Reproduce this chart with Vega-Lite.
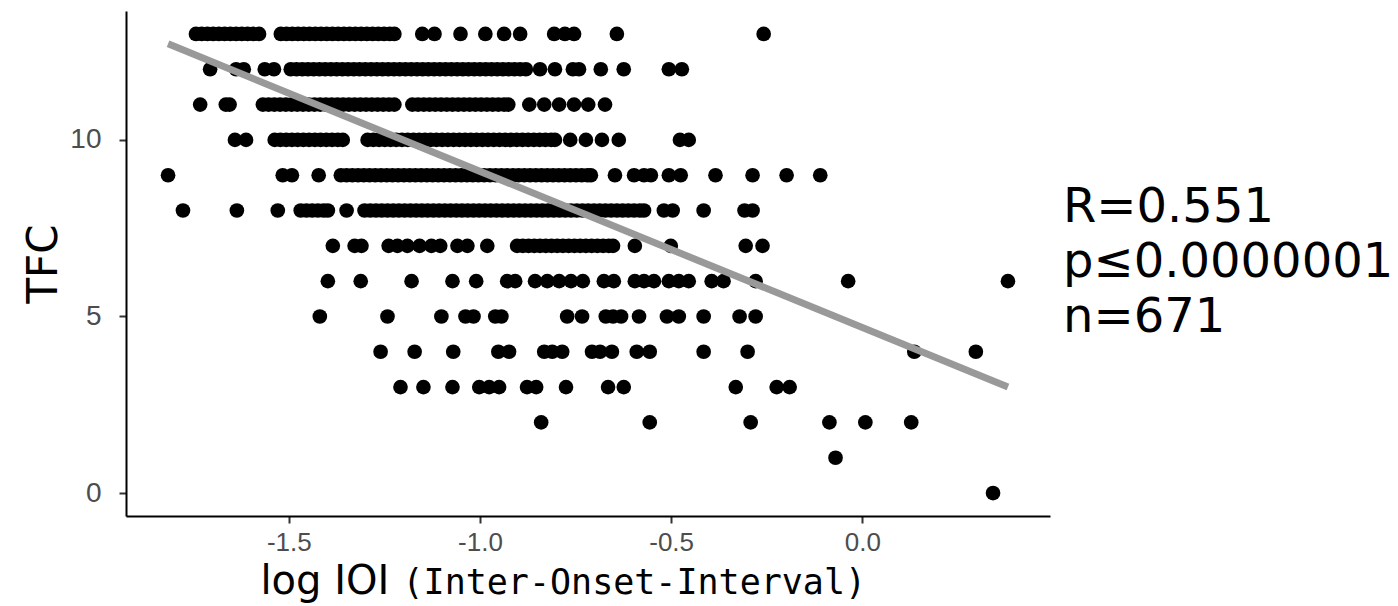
{
"$schema":"https://vega.github.io/schema/vega-lite/v6.json",
"autosize":"none","width":924,"height":505,
"padding":{"left":126,"top":11,"right":348,"bottom":90},
"background":"white",
"config":{"view":{"stroke":null}},
"title":{"text":["R=0.551","p≤0.0000001","n=671"],"orient":"top","anchor":"start","frame":"group","dx":937,"dy":331,"font":"DejaVu Sans","fontSize":48,"fontWeight":"normal","lineHeight":55,"baseline":"top","color":"black","offset":0},
"datasets":{
"pts":[
{"ioi":-1.743,"tfc":13},{"ioi":-1.728,"tfc":13},{"ioi":-1.713,"tfc":13},{"ioi":-1.698,"tfc":13},{"ioi":-1.683,"tfc":13},{"ioi":-1.668,"tfc":13},{"ioi":-1.653,"tfc":13},{"ioi":-1.638,"tfc":13},{"ioi":-1.623,"tfc":13},{"ioi":-1.608,"tfc":13},{"ioi":-1.593,"tfc":13},{"ioi":-1.578,"tfc":13},
{"ioi":-1.521,"tfc":13},{"ioi":-1.506,"tfc":13},{"ioi":-1.491,"tfc":13},{"ioi":-1.476,"tfc":13},{"ioi":-1.461,"tfc":13},{"ioi":-1.446,"tfc":13},{"ioi":-1.431,"tfc":13},{"ioi":-1.416,"tfc":13},{"ioi":-1.401,"tfc":13},{"ioi":-1.386,"tfc":13},{"ioi":-1.371,"tfc":13},{"ioi":-1.356,"tfc":13},{"ioi":-1.341,"tfc":13},{"ioi":-1.326,"tfc":13},{"ioi":-1.311,"tfc":13},{"ioi":-1.296,"tfc":13},{"ioi":-1.281,"tfc":13},{"ioi":-1.266,"tfc":13},{"ioi":-1.251,"tfc":13},{"ioi":-1.236,"tfc":13},{"ioi":-1.224,"tfc":13},
{"ioi":-1.151,"tfc":13},{"ioi":-1.119,"tfc":13},{"ioi":-1.051,"tfc":13},{"ioi":-0.986,"tfc":13},{"ioi":-0.937,"tfc":13},{"ioi":-0.895,"tfc":13},{"ioi":-0.806,"tfc":13},{"ioi":-0.778,"tfc":13},{"ioi":-0.754,"tfc":13},{"ioi":-0.642,"tfc":13},{"ioi":-0.258,"tfc":13},
{"ioi":-1.706,"tfc":12},{"ioi":-1.638,"tfc":12},{"ioi":-1.618,"tfc":12},{"ioi":-1.563,"tfc":12},{"ioi":-1.539,"tfc":12},
{"ioi":-1.495,"tfc":12},{"ioi":-1.480,"tfc":12},{"ioi":-1.465,"tfc":12},{"ioi":-1.450,"tfc":12},{"ioi":-1.435,"tfc":12},{"ioi":-1.420,"tfc":12},{"ioi":-1.405,"tfc":12},{"ioi":-1.390,"tfc":12},{"ioi":-1.375,"tfc":12},{"ioi":-1.360,"tfc":12},{"ioi":-1.345,"tfc":12},{"ioi":-1.330,"tfc":12},{"ioi":-1.315,"tfc":12},{"ioi":-1.300,"tfc":12},{"ioi":-1.285,"tfc":12},{"ioi":-1.270,"tfc":12},{"ioi":-1.255,"tfc":12},{"ioi":-1.240,"tfc":12},{"ioi":-1.225,"tfc":12},{"ioi":-1.210,"tfc":12},{"ioi":-1.195,"tfc":12},{"ioi":-1.180,"tfc":12},{"ioi":-1.165,"tfc":12},{"ioi":-1.150,"tfc":12},{"ioi":-1.135,"tfc":12},{"ioi":-1.120,"tfc":12},{"ioi":-1.105,"tfc":12},{"ioi":-1.090,"tfc":12},{"ioi":-1.075,"tfc":12},{"ioi":-1.060,"tfc":12},{"ioi":-1.045,"tfc":12},{"ioi":-1.030,"tfc":12},{"ioi":-1.015,"tfc":12},{"ioi":-1.000,"tfc":12},{"ioi":-0.985,"tfc":12},{"ioi":-0.970,"tfc":12},{"ioi":-0.955,"tfc":12},{"ioi":-0.940,"tfc":12},{"ioi":-0.925,"tfc":12},{"ioi":-0.910,"tfc":12},{"ioi":-0.895,"tfc":12},{"ioi":-0.880,"tfc":12},
{"ioi":-0.843,"tfc":12},{"ioi":-0.804,"tfc":12},{"ioi":-0.757,"tfc":12},{"ioi":-0.741,"tfc":12},{"ioi":-0.684,"tfc":12},{"ioi":-0.624,"tfc":12},{"ioi":-0.506,"tfc":12},{"ioi":-0.472,"tfc":12},
{"ioi":-1.732,"tfc":11},{"ioi":-1.665,"tfc":11},{"ioi":-1.655,"tfc":11},
{"ioi":-1.568,"tfc":11},{"ioi":-1.553,"tfc":11},{"ioi":-1.538,"tfc":11},{"ioi":-1.523,"tfc":11},{"ioi":-1.508,"tfc":11},{"ioi":-1.493,"tfc":11},{"ioi":-1.478,"tfc":11},{"ioi":-1.463,"tfc":11},{"ioi":-1.448,"tfc":11},{"ioi":-1.433,"tfc":11},{"ioi":-1.418,"tfc":11},{"ioi":-1.403,"tfc":11},{"ioi":-1.388,"tfc":11},{"ioi":-1.373,"tfc":11},{"ioi":-1.358,"tfc":11},{"ioi":-1.343,"tfc":11},{"ioi":-1.328,"tfc":11},{"ioi":-1.313,"tfc":11},{"ioi":-1.298,"tfc":11},{"ioi":-1.283,"tfc":11},{"ioi":-1.268,"tfc":11},{"ioi":-1.253,"tfc":11},{"ioi":-1.238,"tfc":11},{"ioi":-1.224,"tfc":11},
{"ioi":-1.177,"tfc":11},{"ioi":-1.162,"tfc":11},{"ioi":-1.147,"tfc":11},{"ioi":-1.132,"tfc":11},{"ioi":-1.117,"tfc":11},{"ioi":-1.102,"tfc":11},{"ioi":-1.087,"tfc":11},{"ioi":-1.072,"tfc":11},{"ioi":-1.057,"tfc":11},{"ioi":-1.042,"tfc":11},{"ioi":-1.027,"tfc":11},{"ioi":-1.012,"tfc":11},{"ioi":-0.997,"tfc":11},{"ioi":-0.982,"tfc":11},{"ioi":-0.967,"tfc":11},{"ioi":-0.952,"tfc":11},{"ioi":-0.937,"tfc":11},{"ioi":-0.926,"tfc":11},
{"ioi":-0.871,"tfc":11},{"ioi":-0.832,"tfc":11},{"ioi":-0.793,"tfc":11},{"ioi":-0.754,"tfc":11},{"ioi":-0.717,"tfc":11},{"ioi":-0.673,"tfc":11},
{"ioi":-1.641,"tfc":10},{"ioi":-1.612,"tfc":10},
{"ioi":-1.537,"tfc":10},{"ioi":-1.522,"tfc":10},{"ioi":-1.507,"tfc":10},{"ioi":-1.492,"tfc":10},{"ioi":-1.477,"tfc":10},{"ioi":-1.462,"tfc":10},{"ioi":-1.447,"tfc":10},{"ioi":-1.432,"tfc":10},{"ioi":-1.417,"tfc":10},{"ioi":-1.402,"tfc":10},{"ioi":-1.387,"tfc":10},{"ioi":-1.372,"tfc":10},{"ioi":-1.359,"tfc":10},
{"ioi":-1.294,"tfc":10},{"ioi":-1.279,"tfc":10},{"ioi":-1.264,"tfc":10},{"ioi":-1.249,"tfc":10},{"ioi":-1.234,"tfc":10},{"ioi":-1.219,"tfc":10},{"ioi":-1.204,"tfc":10},{"ioi":-1.189,"tfc":10},{"ioi":-1.174,"tfc":10},{"ioi":-1.159,"tfc":10},{"ioi":-1.144,"tfc":10},{"ioi":-1.129,"tfc":10},{"ioi":-1.114,"tfc":10},{"ioi":-1.099,"tfc":10},{"ioi":-1.084,"tfc":10},{"ioi":-1.069,"tfc":10},{"ioi":-1.054,"tfc":10},{"ioi":-1.039,"tfc":10},{"ioi":-1.024,"tfc":10},{"ioi":-1.009,"tfc":10},{"ioi":-0.994,"tfc":10},{"ioi":-0.979,"tfc":10},{"ioi":-0.964,"tfc":10},{"ioi":-0.949,"tfc":10},{"ioi":-0.934,"tfc":10},{"ioi":-0.919,"tfc":10},{"ioi":-0.904,"tfc":10},{"ioi":-0.889,"tfc":10},{"ioi":-0.874,"tfc":10},{"ioi":-0.859,"tfc":10},{"ioi":-0.844,"tfc":10},{"ioi":-0.829,"tfc":10},{"ioi":-0.814,"tfc":10},{"ioi":-0.804,"tfc":10},
{"ioi":-0.764,"tfc":10},{"ioi":-0.723,"tfc":10},{"ioi":-0.681,"tfc":10},{"ioi":-0.637,"tfc":10},{"ioi":-0.477,"tfc":10},{"ioi":-0.454,"tfc":10},
{"ioi":-1.816,"tfc":9},{"ioi":-1.516,"tfc":9},{"ioi":-1.492,"tfc":9},{"ioi":-1.422,"tfc":9},
{"ioi":-1.364,"tfc":9},{"ioi":-1.349,"tfc":9},{"ioi":-1.334,"tfc":9},{"ioi":-1.319,"tfc":9},{"ioi":-1.304,"tfc":9},{"ioi":-1.289,"tfc":9},{"ioi":-1.274,"tfc":9},{"ioi":-1.259,"tfc":9},{"ioi":-1.244,"tfc":9},{"ioi":-1.229,"tfc":9},{"ioi":-1.214,"tfc":9},{"ioi":-1.199,"tfc":9},{"ioi":-1.184,"tfc":9},{"ioi":-1.169,"tfc":9},{"ioi":-1.154,"tfc":9},{"ioi":-1.139,"tfc":9},{"ioi":-1.124,"tfc":9},{"ioi":-1.109,"tfc":9},{"ioi":-1.094,"tfc":9},{"ioi":-1.079,"tfc":9},{"ioi":-1.064,"tfc":9},{"ioi":-1.049,"tfc":9},{"ioi":-1.034,"tfc":9},{"ioi":-1.019,"tfc":9},{"ioi":-1.004,"tfc":9},{"ioi":-0.989,"tfc":9},{"ioi":-0.974,"tfc":9},{"ioi":-0.959,"tfc":9},{"ioi":-0.944,"tfc":9},{"ioi":-0.929,"tfc":9},{"ioi":-0.914,"tfc":9},{"ioi":-0.899,"tfc":9},{"ioi":-0.884,"tfc":9},{"ioi":-0.869,"tfc":9},{"ioi":-0.854,"tfc":9},{"ioi":-0.839,"tfc":9},{"ioi":-0.824,"tfc":9},{"ioi":-0.809,"tfc":9},{"ioi":-0.794,"tfc":9},{"ioi":-0.779,"tfc":9},{"ioi":-0.764,"tfc":9},{"ioi":-0.749,"tfc":9},{"ioi":-0.734,"tfc":9},{"ioi":-0.719,"tfc":9},{"ioi":-0.710,"tfc":9},
{"ioi":-0.647,"tfc":9},{"ioi":-0.597,"tfc":9},{"ioi":-0.571,"tfc":9},{"ioi":-0.553,"tfc":9},{"ioi":-0.506,"tfc":9},{"ioi":-0.475,"tfc":9},{"ioi":-0.384,"tfc":9},{"ioi":-0.287,"tfc":9},{"ioi":-0.198,"tfc":9},{"ioi":-0.110,"tfc":9},
{"ioi":-1.777,"tfc":8},{"ioi":-1.636,"tfc":8},{"ioi":-1.529,"tfc":8},
{"ioi":-1.469,"tfc":8},{"ioi":-1.454,"tfc":8},{"ioi":-1.439,"tfc":8},{"ioi":-1.424,"tfc":8},{"ioi":-1.409,"tfc":8},{"ioi":-1.398,"tfc":8},{"ioi":-1.349,"tfc":8},
{"ioi":-1.302,"tfc":8},{"ioi":-1.287,"tfc":8},{"ioi":-1.272,"tfc":8},{"ioi":-1.257,"tfc":8},{"ioi":-1.242,"tfc":8},{"ioi":-1.227,"tfc":8},{"ioi":-1.212,"tfc":8},{"ioi":-1.197,"tfc":8},{"ioi":-1.182,"tfc":8},{"ioi":-1.167,"tfc":8},{"ioi":-1.152,"tfc":8},{"ioi":-1.137,"tfc":8},{"ioi":-1.122,"tfc":8},{"ioi":-1.107,"tfc":8},{"ioi":-1.092,"tfc":8},{"ioi":-1.077,"tfc":8},{"ioi":-1.062,"tfc":8},{"ioi":-1.047,"tfc":8},{"ioi":-1.032,"tfc":8},{"ioi":-1.017,"tfc":8},{"ioi":-1.002,"tfc":8},{"ioi":-0.987,"tfc":8},{"ioi":-0.972,"tfc":8},{"ioi":-0.957,"tfc":8},{"ioi":-0.942,"tfc":8},{"ioi":-0.927,"tfc":8},{"ioi":-0.912,"tfc":8},{"ioi":-0.897,"tfc":8},{"ioi":-0.882,"tfc":8},{"ioi":-0.867,"tfc":8},{"ioi":-0.852,"tfc":8},{"ioi":-0.837,"tfc":8},{"ioi":-0.822,"tfc":8},{"ioi":-0.807,"tfc":8},{"ioi":-0.792,"tfc":8},{"ioi":-0.777,"tfc":8},{"ioi":-0.762,"tfc":8},{"ioi":-0.747,"tfc":8},{"ioi":-0.732,"tfc":8},{"ioi":-0.717,"tfc":8},{"ioi":-0.702,"tfc":8},{"ioi":-0.687,"tfc":8},{"ioi":-0.672,"tfc":8},{"ioi":-0.657,"tfc":8},{"ioi":-0.642,"tfc":8},{"ioi":-0.627,"tfc":8},{"ioi":-0.612,"tfc":8},{"ioi":-0.597,"tfc":8},{"ioi":-0.582,"tfc":8},{"ioi":-0.571,"tfc":8},
{"ioi":-0.519,"tfc":8},{"ioi":-0.496,"tfc":8},{"ioi":-0.415,"tfc":8},{"ioi":-0.308,"tfc":8},{"ioi":-0.287,"tfc":8},
{"ioi":-1.385,"tfc":7},{"ioi":-1.328,"tfc":7},{"ioi":-1.310,"tfc":7},{"ioi":-1.239,"tfc":7},{"ioi":-1.216,"tfc":7},{"ioi":-1.190,"tfc":7},{"ioi":-1.158,"tfc":7},{"ioi":-1.127,"tfc":7},{"ioi":-1.104,"tfc":7},{"ioi":-1.059,"tfc":7},{"ioi":-1.033,"tfc":7},{"ioi":-0.981,"tfc":7},
{"ioi":-0.903,"tfc":7},{"ioi":-0.888,"tfc":7},{"ioi":-0.873,"tfc":7},{"ioi":-0.858,"tfc":7},{"ioi":-0.843,"tfc":7},{"ioi":-0.828,"tfc":7},{"ioi":-0.813,"tfc":7},{"ioi":-0.798,"tfc":7},{"ioi":-0.783,"tfc":7},{"ioi":-0.768,"tfc":7},{"ioi":-0.753,"tfc":7},{"ioi":-0.738,"tfc":7},{"ioi":-0.723,"tfc":7},{"ioi":-0.708,"tfc":7},{"ioi":-0.693,"tfc":7},{"ioi":-0.678,"tfc":7},{"ioi":-0.663,"tfc":7},{"ioi":-0.652,"tfc":7},
{"ioi":-0.595,"tfc":7},{"ioi":-0.501,"tfc":7},{"ioi":-0.305,"tfc":7},{"ioi":-0.261,"tfc":7},
{"ioi":-1.398,"tfc":6},{"ioi":-1.312,"tfc":6},{"ioi":-1.179,"tfc":6},{"ioi":-1.072,"tfc":6},{"ioi":-1.010,"tfc":6},{"ioi":-0.929,"tfc":6},{"ioi":-0.908,"tfc":6},{"ioi":-0.856,"tfc":6},{"ioi":-0.824,"tfc":6},{"ioi":-0.793,"tfc":6},{"ioi":-0.762,"tfc":6},{"ioi":-0.731,"tfc":6},{"ioi":-0.676,"tfc":6},{"ioi":-0.650,"tfc":6},{"ioi":-0.595,"tfc":6},{"ioi":-0.571,"tfc":6},{"ioi":-0.545,"tfc":6},{"ioi":-0.506,"tfc":6},{"ioi":-0.480,"tfc":6},{"ioi":-0.454,"tfc":6},{"ioi":-0.394,"tfc":6},{"ioi":-0.363,"tfc":6},{"ioi":-0.279,"tfc":6},{"ioi":-0.037,"tfc":6},{"ioi":0.381,"tfc":6},
{"ioi":-1.419,"tfc":5},{"ioi":-1.242,"tfc":5},{"ioi":-1.101,"tfc":5},{"ioi":-1.038,"tfc":5},{"ioi":-1.017,"tfc":5},{"ioi":-0.960,"tfc":5},{"ioi":-0.944,"tfc":5},{"ioi":-0.772,"tfc":5},{"ioi":-0.733,"tfc":5},{"ioi":-0.671,"tfc":5},{"ioi":-0.652,"tfc":5},{"ioi":-0.631,"tfc":5},{"ioi":-0.584,"tfc":5},{"ioi":-0.511,"tfc":5},{"ioi":-0.480,"tfc":5},{"ioi":-0.415,"tfc":5},{"ioi":-0.321,"tfc":5},{"ioi":-0.279,"tfc":5},
{"ioi":-1.260,"tfc":4},{"ioi":-1.171,"tfc":4},{"ioi":-1.070,"tfc":4},{"ioi":-0.952,"tfc":4},{"ioi":-0.924,"tfc":4},{"ioi":-0.832,"tfc":4},{"ioi":-0.811,"tfc":4},{"ioi":-0.785,"tfc":4},{"ioi":-0.707,"tfc":4},{"ioi":-0.686,"tfc":4},{"ioi":-0.655,"tfc":4},{"ioi":-0.590,"tfc":4},{"ioi":-0.556,"tfc":4},{"ioi":-0.415,"tfc":4},{"ioi":-0.300,"tfc":4},{"ioi":0.136,"tfc":4},{"ioi":0.297,"tfc":4},
{"ioi":-1.208,"tfc":3},{"ioi":-1.148,"tfc":3},{"ioi":-1.072,"tfc":3},{"ioi":-1.002,"tfc":3},{"ioi":-0.976,"tfc":3},{"ioi":-0.950,"tfc":3},{"ioi":-0.877,"tfc":3},{"ioi":-0.853,"tfc":3},{"ioi":-0.775,"tfc":3},{"ioi":-0.665,"tfc":3},{"ioi":-0.624,"tfc":3},{"ioi":-0.331,"tfc":3},{"ioi":-0.224,"tfc":3},{"ioi":-0.190,"tfc":3},
{"ioi":-0.840,"tfc":2},{"ioi":-0.556,"tfc":2},{"ioi":-0.292,"tfc":2},{"ioi":-0.086,"tfc":2},{"ioi":0.008,"tfc":2},{"ioi":0.128,"tfc":2},
{"ioi":-0.070,"tfc":1},
{"ioi":0.342,"tfc":0}
],
"fit":[{"ioi":-1.816,"tfc":12.72},{"ioi":0.381,"tfc":3.0}]
},
"layer":[
{"data":{"name":"pts"},"mark":{"type":"circle","size":215,"color":"black","opacity":1},
"encoding":{
"x":{"field":"ioi","type":"quantitative","scale":{"domain":[-1.926,0.491],"nice":false,"zero":false},
"axis":{"values":[-1.5,-1,-0.5,0],"format":".1f","labelExpr":"replace(datum.label, '\u2212', '-')","grid":false,"domainColor":"black","domainWidth":2,"tickColor":"#333","tickWidth":2,"tickSize":7,"labelFont":"Liberation Sans","labelFontSize":26,"labelColor":"#4d4d4d","labelPadding":6,"title":"log IOI","titleFont":"DejaVu Sans","titleFontSize":40,"titleFontWeight":"normal","titleColor":"black","titleAnchor":"start","titleAlign":"left","titleBaseline":"alphabetic","titleX":134,"titleY":77}},
"y":{"field":"tfc","type":"quantitative","scale":{"domain":[-0.65,13.65],"nice":false,"zero":false},
"axis":{"values":[0,5,10],"grid":false,"domainColor":"black","domainWidth":2,"tickColor":"#333","tickWidth":2,"tickSize":7,"labelFont":"Liberation Sans","labelFontSize":28,"labelColor":"#4d4d4d","labelPadding":18,"title":"TFC","titleFont":"DejaVu Sans","titleFontSize":42,"titleFontWeight":"normal","titleColor":"black","titleBaseline":"middle","titleX":-83}}
}},
{"data":{"name":"fit"},"mark":{"type":"line","color":"#999999","strokeWidth":7,"strokeCap":"butt"},
"encoding":{
"x":{"field":"ioi","type":"quantitative","axis":{"orient":"bottom","domain":false,"ticks":false,"labels":false,"grid":false,"title":"(Inter-Onset-Interval)","titleFont":"DejaVu Sans Mono","titleFontSize":35,"titleFontWeight":"normal","titleColor":"black","titleAnchor":"start","titleAlign":"left","titleBaseline":"alphabetic","titleX":276,"titleY":77}},
"y":{"field":"tfc","type":"quantitative"}
}}
],
"resolve":{"axis":{"x":"independent"}}
}
